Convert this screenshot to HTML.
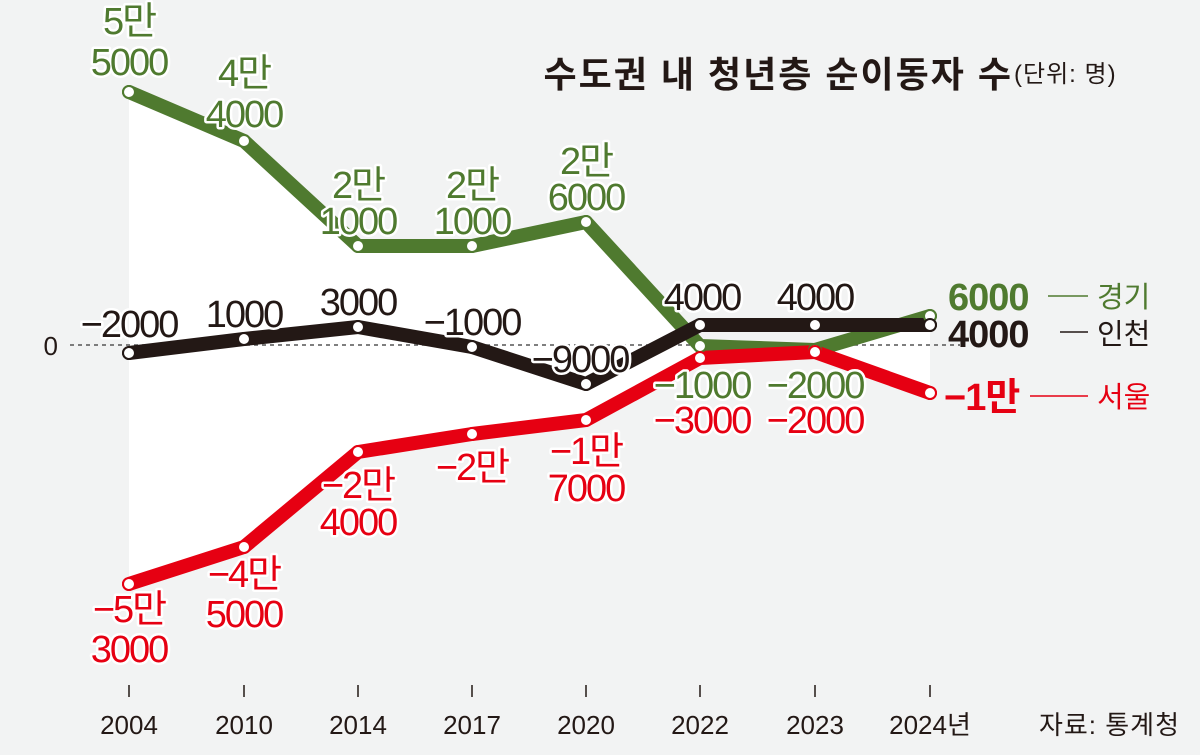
<!DOCTYPE html>
<html><head><meta charset="utf-8"><style>
body{margin:0;background:#f2f3f3}
svg{display:block}
text{font-family:"Liberation Sans","Noto Sans CJK KR",sans-serif}
.l{font-size:38px;text-anchor:middle;stroke:#fff;stroke-width:5px;paint-order:stroke;stroke-linejoin:round;letter-spacing:-2px}
.g{fill:#4f7a2f}.k{fill:#231815}.r{fill:#e60012}
.y{font-size:26px;fill:#231815;text-anchor:middle}
</style></head><body>
<svg width="1200" height="755" viewBox="0 0 1200 755">
<rect width="1200" height="755" fill="#f2f3f3"/>
<polygon fill="#fff" points="129,92 244,141 358,246 472,246 586,222 700,346 815,350 930,316 930,393 815,352 700,358 586,420 472,434 358,452 244,547 129,584"/>
<line x1="70" y1="345" x2="960" y2="345" stroke="#555" stroke-width="1.5" stroke-dasharray="4,4"/>
<text x="58" y="355" font-size="26" fill="#231815" text-anchor="end">0</text>
<g fill="none" stroke-width="14" stroke-linejoin="round" stroke-linecap="round">
<polyline stroke="#4f7a2f" points="129,92 244,141 358,246 472,246 586,222 700,346 815,350 930,316"/>
<polyline stroke="#231815" points="129,353 244,339 358,327 472,347 586,384 700,325 815,325 930,325"/>
<polyline stroke="#e60012" points="129,584 244,547 358,452 472,434 586,420 700,358 815,352 930,393"/>
</g>
<g fill="#fff" stroke-width="2">
<g stroke="#4f7a2f"><circle cx="129" cy="92" r="6"/><circle cx="244" cy="141" r="6"/><circle cx="358" cy="246" r="6"/><circle cx="472" cy="246" r="6"/><circle cx="586" cy="222" r="6"/><circle cx="700" cy="346" r="6"/><circle cx="815" cy="350" r="6"/><circle cx="930" cy="316" r="6"/></g>
<g stroke="#231815"><circle cx="129" cy="353" r="6"/><circle cx="244" cy="339" r="6"/><circle cx="358" cy="327" r="6"/><circle cx="472" cy="347" r="6"/><circle cx="586" cy="384" r="6"/><circle cx="700" cy="325" r="6"/><circle cx="815" cy="325" r="6"/><circle cx="930" cy="325" r="6"/></g>
<g stroke="#e60012"><circle cx="129" cy="584" r="6"/><circle cx="244" cy="547" r="6"/><circle cx="358" cy="452" r="6"/><circle cx="472" cy="434" r="6"/><circle cx="586" cy="420" r="6"/><circle cx="700" cy="358" r="6"/><circle cx="815" cy="352" r="6"/><circle cx="930" cy="393" r="6"/></g>
</g>
<g class="l g">
<text x="129" y="34">5만</text><text x="129" y="75">5000</text>
<text x="244" y="86">4만</text><text x="244" y="127">4000</text>
<text x="358" y="198">2만</text><text x="358" y="234">1000</text>
<text x="472" y="198">2만</text><text x="472" y="234">1000</text>
<text x="586" y="174">2만</text><text x="586" y="210">6000</text>
<text x="702" y="398">−1000</text><text x="815" y="398">−2000</text>
</g>
<g class="l k">
<text x="129" y="337">−2000</text><text x="244" y="327">1000</text><text x="358" y="315">3000</text>
<text x="472" y="335">−1000</text><text x="580" y="372">−9000</text>
<text x="702" y="310">4000</text><text x="815" y="310">4000</text>
</g>
<g class="l r">
<text x="129" y="622">−5만</text><text x="129" y="662">3000</text>
<text x="244" y="587">−4만</text><text x="244" y="627">5000</text>
<text x="358" y="498">−2만</text><text x="358" y="535">4000</text>
<text x="472" y="480">−2만</text>
<text x="586" y="464">−1만</text><text x="586" y="501">7000</text>
<text x="702" y="433">−3000</text><text x="815" y="433">−2000</text>
</g>
<g font-size="38" font-weight="bold" letter-spacing="-1">
<text x="948" y="310" fill="#4f7a2f">6000</text>
<text x="948" y="347" fill="#231815">4000</text>
<text x="944" y="410" fill="#e60012">−1만</text>
</g>
<g stroke-width="1.5">
<line x1="1048" y1="296" x2="1088" y2="296" stroke="#4f7a2f"/>
<line x1="1060" y1="332" x2="1088" y2="332" stroke="#231815"/>
<line x1="1030" y1="396" x2="1088" y2="396" stroke="#e60012"/>
</g>
<g font-size="29">
<text x="1097" y="307" fill="#4f7a2f">경기</text>
<text x="1097" y="344" fill="#231815">인천</text>
<text x="1097" y="407" fill="#e60012">서울</text>
</g>
<text x="1013" y="87" font-size="36" font-weight="bold" fill="#231815" text-anchor="end" letter-spacing="2">수도권 내 청년층 순이동자 수</text>
<text x="1014" y="82" font-size="24" fill="#231815" letter-spacing="1">(단위: 명)</text>
<g stroke="#231815" stroke-width="1.5">
<line x1="129" y1="685" x2="129" y2="697"/><line x1="244" y1="685" x2="244" y2="697"/><line x1="358" y1="685" x2="358" y2="697"/><line x1="472" y1="685" x2="472" y2="697"/><line x1="586" y1="685" x2="586" y2="697"/><line x1="700" y1="685" x2="700" y2="697"/><line x1="815" y1="685" x2="815" y2="697"/><line x1="930" y1="685" x2="930" y2="697"/>
</g>
<g class="y">
<text x="129" y="734">2004</text><text x="244" y="734">2010</text><text x="358" y="734">2014</text><text x="472" y="734">2017</text><text x="586" y="734">2020</text><text x="700" y="734">2022</text><text x="815" y="734">2023</text><text x="930" y="734">2024년</text>
</g>
<text x="1180" y="734" font-size="26" fill="#231815" text-anchor="end" letter-spacing="1">자료: 통계청</text>
</svg>
</body></html>
